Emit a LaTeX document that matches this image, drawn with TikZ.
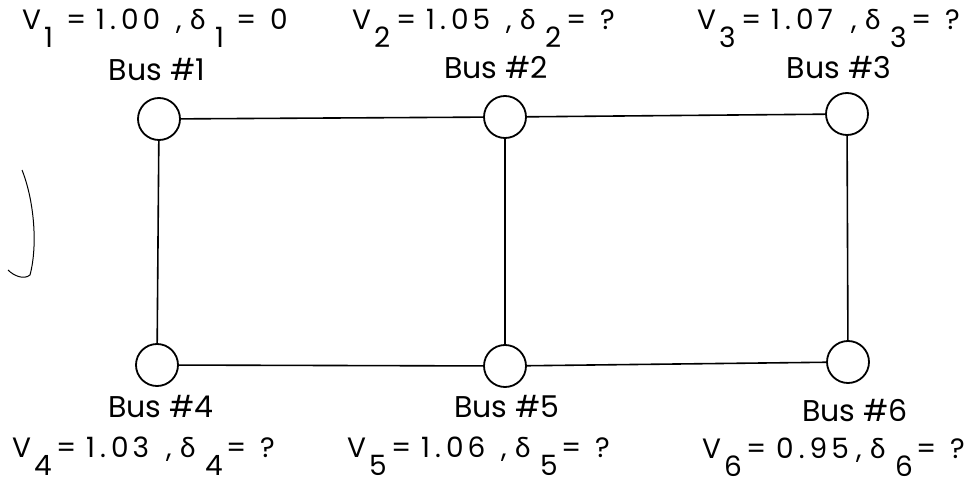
\documentclass[tikz,border=0pt]{standalone}
\usepackage{fontspec}
\setmainfont{Poppins}
\newfontfamily\grk{Lato}
\newcommand\sbs[1]{\raisebox{-18pt}{#1}}
\newcommand\dlt{{\grk δ}}
% one row of bus values, pieces at fixed offsets (pt = reference pixels)
\newcommand\valrow[4]{%
  \rlap{V}\hspace{22pt}%
  \rlap{\sbs{#1}}\hspace{22pt}%
  \rlap{=}\hspace{30pt}%
  \rlap{#2}\hspace{80pt}%
  \rlap{,}\hspace{14pt}%
  \rlap{\dlt}\hspace{25pt}%
  \rlap{\sbs{#1}}\hspace{21pt}%
  \rlap{=}\hspace{34pt}%
  #4}
\newcommand\num[4]{#1\kern5pt#2\kern5pt#3\kern4pt#4}
\begin{document}
\begin{tikzpicture}[x=1pt,y=-1pt,
  bus/.style={circle,draw,line width=1.8pt,minimum size=42pt,inner sep=0pt},
  line/.style={line width=1.6pt},
  lbl/.style={inner sep=0pt,font=\fontsize{30}{34}\selectfont},
  val/.style={inner sep=0pt,anchor=base west,font=\fontsize{28}{32}\selectfont}]
\useasboundingbox (0,0) rectangle (972,484);
% buses
\node[bus] (b1) at (159,119) {};
\node[bus] (b2) at (505,117) {};
\node[bus] (b3) at (847,114) {};
\node[bus] (b4) at (157,365) {};
\node[bus] (b5) at (505,366) {};
\node[bus] (b6) at (848,362) {};
% lines
\draw[line] (b1) -- (b2);
\draw[line] (b2) -- (b3);
\draw[line] (b1) -- (b4);
\draw[line] (b2) -- (b5);
\draw[line] (b3) -- (b6);
\draw[line] (b4) -- (b5);
\draw[line] (b5) -- (b6);
% bus labels
\node[lbl,anchor=base] (l1) at (157,81) {Bus \#1};
\node[lbl,anchor=base] (l2) at (496,79) {Bus \#2};
\node[lbl,anchor=base] (l3) at (839,79) {Bus \#3};
\node[lbl,anchor=base] (l4) at (161,417) {Bus \#4};
\node[lbl,anchor=base] (l5) at (507,417) {Bus \#5};
\node[lbl,anchor=base] (l6) at (855,421) {Bus \#6};
% values
\node[val] (v1) at (22,30) {\valrow{1}{\num{1}{.}{0}{0}}{1}{0}};
\node[val] (v2) at (352,30) {\valrow{2}{\num{1}{.}{0}{5}}{2}{?}};
\node[val] (v3) at (697,30) {\valrow{3}{\num{1}{.}{0}{7}}{3}{?}};
\node[val] (v4) at (12,457) {\valrow{4}{\num{1}{.}{0}{3}}{4}{?}};
\node[val] (v5) at (347,457) {\valrow{5}{\num{1}{.}{0}{6}}{5}{?}};
\node[val] (v6) at (702,458) {\valrow{6}{\num{0}{.}{9}{5}}{6}{?}};
% stray pen mark on the left
\draw[line width=1pt] (22,170) .. controls (34,200) and (38,245) .. (30,275) .. controls (24,280) and (14,276) .. (8,270);
\end{tikzpicture}
\end{document}
